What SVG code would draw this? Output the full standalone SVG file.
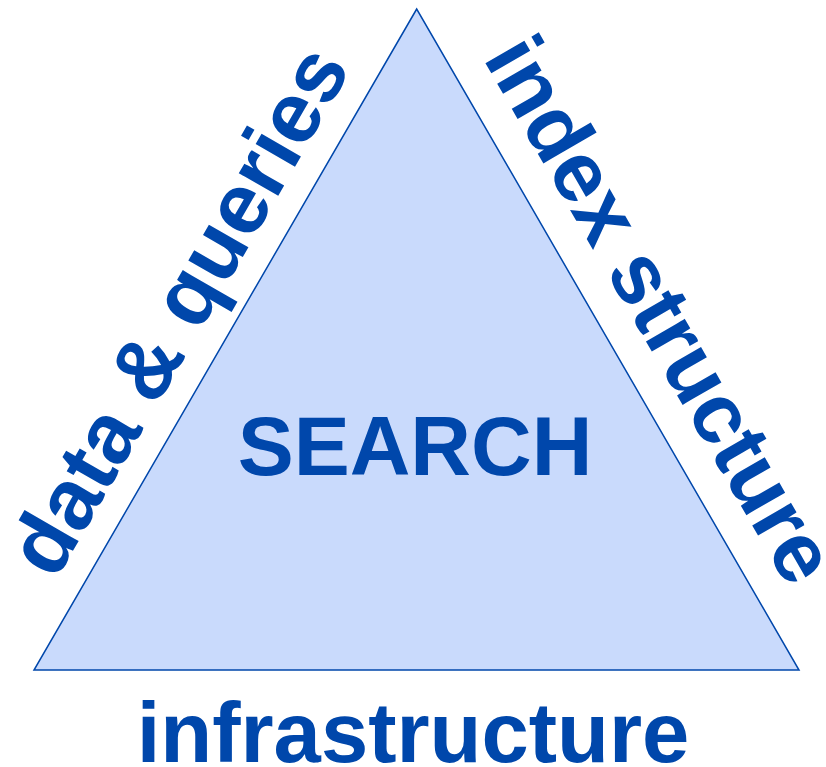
<svg xmlns="http://www.w3.org/2000/svg" width="826" height="767" viewBox="0 0 826 767">
<style>
.t{font-family:"Liberation Sans",Arial,sans-serif;font-weight:bold;fill:#0047AB;text-anchor:middle}
</style>
<rect width="826" height="767" fill="#fff"/>
<g id="triangle">
<polygon points="416.7,9 34,670 799,670" fill="#C9DAFC" stroke="#0047AB" stroke-width="1.5" stroke-linejoin="miter"/>
<text class="t" x="415" y="475" font-size="84">SEARCH</text>
</g>
<g id="left-label">
<text class="t" font-size="86" transform="translate(203.5,325) rotate(-60)">data &amp; queries</text>
</g>
<g id="right-label">
<text class="t" font-size="85" transform="translate(636,324) rotate(60)">index structure</text>
</g>
<g id="bottom-label">
<text class="t" x="413" y="762" font-size="85">infrastructure</text>
</g>
<g id="connectors"/>
</svg>
